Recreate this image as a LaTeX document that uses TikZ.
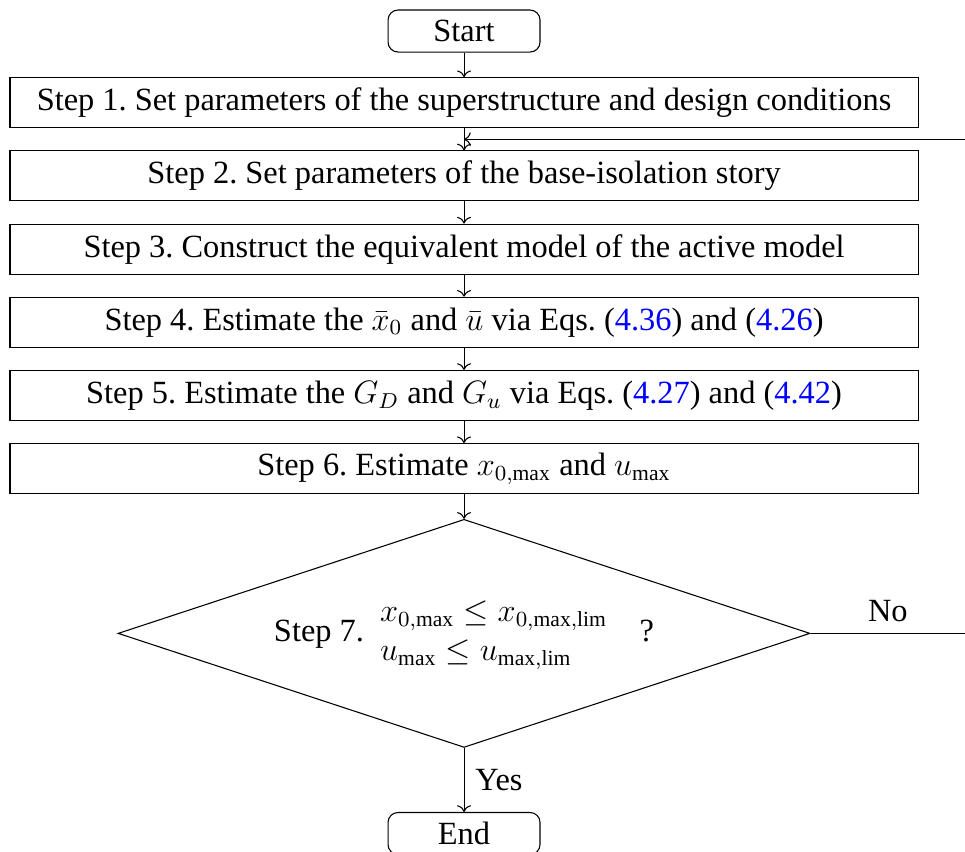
\documentclass[tikz,border=0pt,12pt]{standalone}
\usepackage{amsmath}
\usepackage{fontspec}
\setmainfont{Liberation Serif}
\usepackage{tikz}
\usetikzlibrary{arrows.meta, positioning, calc, shapes.geometric}

\begin{document}
\begin{tikzpicture}[
  stepbox/.style = {draw, minimum height=0.651cm, minimum width=11.823cm, inner sep=0pt, align=center},
  term/.style = {draw, rounded corners=0.13cm, minimum height=0.547cm, minimum width=1.979cm, inner sep=0pt},
  decision/.style = {draw, diamond, aspect=3.03, minimum width=9.01cm, minimum height=2.97cm, inner sep=0pt},
  arrow/.style = {->},
  node distance=0.288cm
]
\useasboundingbox (0,0) rectangle (12.565,-11.081);

% Start
\node[term] (start) at (6.042,-0.404) {Start};

% Steps 1 to 6
\node[stepbox, below=0.32cm of start] (s1) {Step 1.\ Set parameters of the superstructure and design conditions};
\node[stepbox, below=of s1] (s2) {Step 2.\ Set parameters of the base-isolation story};
\node[stepbox, below=of s2] (s3) {Step 3.\ Construct the equivalent model of the active model};
\node[stepbox, below=of s3] (s4) {Step 4.\ Estimate the $\bar{x}_0$ and $\bar{u}$ via Eqs.~(\textcolor{blue}{4.36}) and (\textcolor{blue}{4.26})};
\node[stepbox, below=of s4] (s5) {Step 5.\ Estimate the $G_D$ and $G_u$ via Eqs.~(\textcolor{blue}{4.27}) and (\textcolor{blue}{4.42})};
\node[stepbox, below=of s5] (s6) {Step 6.\ Estimate $x_{0,\max}$ and $u_{\max}$};

% Step 7: check
\node[decision, below=0.32cm of s6] (check) {Step 7.\ \
  $\begin{array}{@{}l@{}}
    x_{0,\max} \le x_{0,\max,\mathrm{lim}} \\
    u_{\max} \le u_{\max,\mathrm{lim}}
  \end{array}$\quad ?};

% End
\node[term, below=0.833cm of check] (end) {End};

\draw[arrow] (start) -- (s1);
\draw[arrow] (s1) -- (s2);
\draw[arrow] (s2) -- (s3);
\draw[arrow] (s3) -- (s4);
\draw[arrow] (s4) -- (s5);
\draw[arrow] (s5) -- (s6);
\draw[arrow] (s6) -- (check);
\draw[arrow] (check) -- node[right] {Yes} (end);

% No: back to step 2
\coordinate (noend) at (12.565,0 |- check.east);
\draw (check.east) -- node[above] {No} (noend);
\coordinate (back) at ($(s1.south)!0.5!(s2.north)$);
\coordinate (backin) at (12.565,0 |- back);
\draw[arrow] (backin) -- (back);

\end{tikzpicture}
\end{document}
